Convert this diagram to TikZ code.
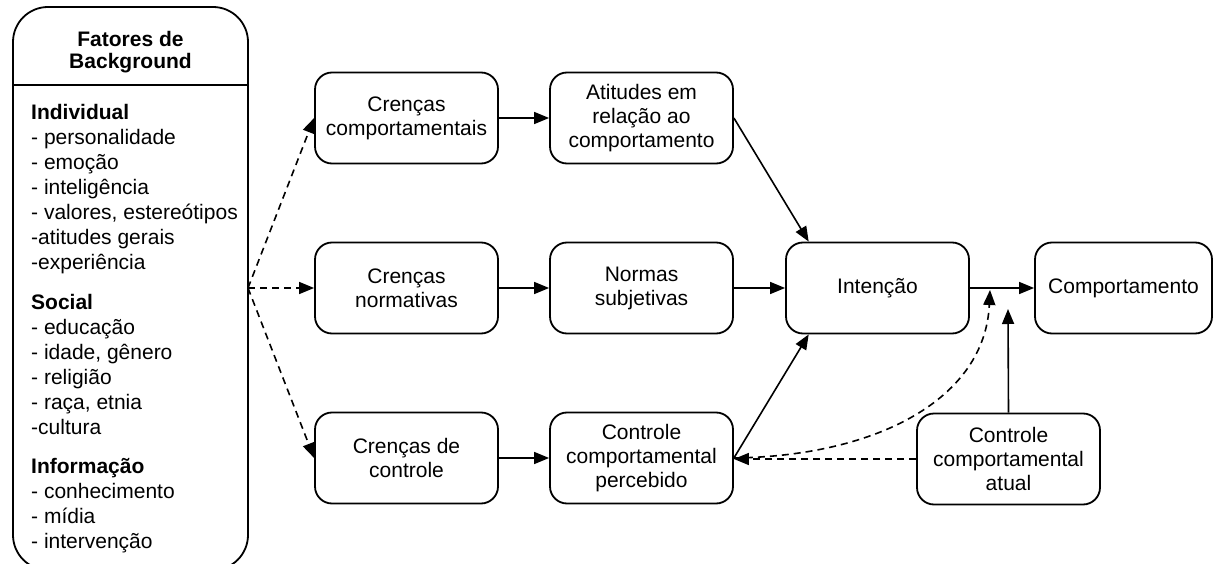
\documentclass[tikz,border=0pt]{standalone}
\usepackage{fontspec}
\setmainfont{Liberation Sans}
\usetikzlibrary{arrows.meta}

\tikzset{
  box/.style={draw, line width=1.8pt, rounded corners=17pt, minimum width=183pt,
    minimum height=91pt, align=center, inner sep=2pt, font=\fontsize{21}{24}\selectfont},
  arr/.style={line width=1.6pt, -{Triangle[length=15pt,width=12pt]}},
  darr/.style={arr, dash pattern=on 7pt off 5pt},
}

\begin{document}
\begin{tikzpicture}[x=1pt, y=-1pt]
  \useasboundingbox (0,0) rectangle (1215,564);
  \clip (0,0) rectangle (1215,564);
  % background factors
  \node[draw, line width=1.8pt, rounded corners=35pt, minimum width=235pt,
    minimum height=563pt] (bg) at (130.5,288.5) {};
  \coordinate (hl) at (0,85);
  \draw[line width=1.8pt] (bg.west |- hl) -- (bg.east |- hl);
  \node[font=\fontsize{21}{22}\selectfont\bfseries, align=center] (bgtitle) at (130.5,52)
    {Fatores de\\Background};
  \node[anchor=north west, inner sep=0pt, align=left, font=\fontsize{21}{25}\selectfont]
    (bglist) at (31,104)
    {\textbf{Individual}\\- personalidade\\- emoção\\- inteligência\\- valores, estereótipos\\
     -atitudes gerais\\-experiência\\[15pt]
     \textbf{Social}\\- educação\\- idade, gênero\\- religião\\- raça, etnia\\-cultura\\[14pt]
     \textbf{Informação}\\- conhecimento\\- mídia\\- intervenção};

  % model
  \node[box] (cc) at (406.5,118) {Crenças\\comportamentais};
  \node[box] (att) at (641.5,118) {Atitudes em\\relação ao\\comportamento};
  \node[box] (cn) at (406.5,288) {Crenças\\normativas};
  \node[box] (ns) at (641.5,288) {Normas\\subjetivas};
  \node[box] (int) at (877.5,288) {Intenção};
  \node[box, minimum width=177pt] (comp) at (1123.5,288) {Comportamento};
  \node[box] (ccon) at (406.5,458) {Crenças de\\controle};
  \node[box] (ccp) at (641.5,458) {Controle\\comportamental\\percebido};
  \node[box] (cca) at (1008.5,459) {Controle\\comportamental\\atual};

  \coordinate (src) at (248,288);
  \coordinate (ctip) at (1008,309);
  \coordinate (dtip) at (990,290);

  \draw[darr] (src) -- (cc.west);
  \draw[darr] (src) -- (cn.west);
  \draw[darr] (src) -- (ccon.west);
  \draw[arr] (cc) -- (att);
  \draw[arr] (cn) -- (ns);
  \draw[arr] (ns) -- (int);
  \draw[arr] (ccon) -- (ccp);
  \draw[arr] (int) -- (comp);
  \draw[arr] (att.east) -- (int.146);
  \draw[arr] (ccp.east) -- (int.214);
  \draw[arr] (cca.north) -- (ctip);
  \draw[darr] (cca.west) -- (cca.west -| ccp.east);
  \draw[darr] (ccp.east) .. controls +(145,-2) and +(-5,108) .. (dtip);
\end{tikzpicture}
\end{document}
